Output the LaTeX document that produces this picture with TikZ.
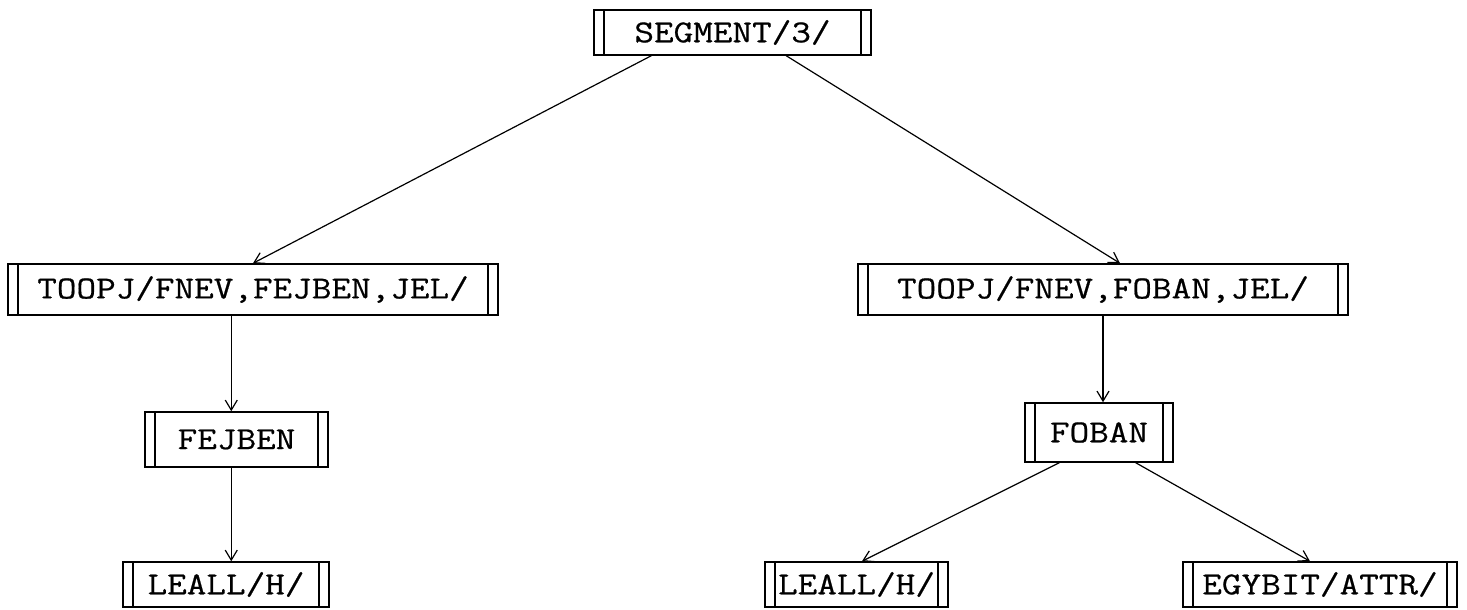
\documentclass[tikz,border=0pt]{standalone}
\usepackage{fontspec}
\newfontfamily\typewriter{Latin Modern Mono}[FakeStretch=1.19,FakeBold=0.6]
\usetikzlibrary{arrows.meta}
\begin{document}
\begin{tikzpicture}[x=0.5pt,y=-0.5pt,
  proc/.style={draw, line width=0.75pt, inner sep=0pt,
    font=\typewriter\fontsize{16pt}{18pt}\selectfont,
    minimum width=#1,
    path picture={
      \draw[line width=0.75pt] ([xshift=5pt]path picture bounding box.north west) -- ([xshift=5pt]path picture bounding box.south west);
      \draw[line width=0.75pt] ([xshift=-5pt]path picture bounding box.north east) -- ([xshift=-5pt]path picture bounding box.south east);
    }},
  arr/.style={line width=0.6pt, -{Straight Barb[length=5pt,width=6pt]}}]
\useasboundingbox (0,0) rectangle (1467,610);
% process boxes
\node[proc=138.5pt, minimum height=22.5pt] (seg) at (732.5,32.5) {SEGMENT/3/};
\node[proc=245pt, minimum height=25.5pt] (tl) at (253,289.5) {TOOPJ/FNEV,FEJBEN,JEL/};
\node[proc=245pt, minimum height=25.5pt] (tr) at (1103,289.5) {TOOPJ/FNEV,FOBAN,JEL/};
\node[proc=91.5pt, minimum height=27.5pt] (fej) at (236.5,439.5) {FEJBEN};
\node[proc=74pt, minimum height=29.5pt] (fob) at (1099,432.5) {FOBAN};
\node[proc=103pt, minimum height=22.5pt] (ll) at (226,584.5) {LEALL/H/};
\node[proc=91.5pt, minimum height=22.5pt] (lr) at (856.5,584.5) {LEALL/H/};
\node[proc=137pt, minimum height=22.5pt] (egy) at (1320,584.5) {EGYBIT/ATTR/};
% connectors
\draw[arr] ([xshift=29pt]seg.south west) -- (tl.north);
\draw[arr] ([xshift=96.5pt]seg.south west) -- ([xshift=8.5pt]tr.north);
\draw[arr] ([xshift=112pt]tl.south west) -- ([xshift=112pt]tl.south west |- fej.north);
\draw[arr] ([xshift=112pt]tl.south west |- fej.south) -- ([xshift=112pt]tl.south west |- ll.north);
\draw[arr] (tr.south) -- (tr.south |- fob.north);
\draw[arr] ([xshift=17.5pt]fob.south west) -- ([xshift=2.75pt]lr.north);
\draw[arr] ([xshift=-19pt]fob.south east) -- ([xshift=-5pt]egy.north);
\end{tikzpicture}
\end{document}
